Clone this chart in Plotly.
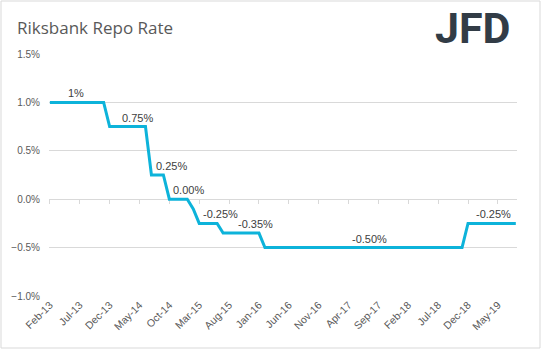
import plotly.graph_objects as go

months = ["Feb-13","Mar-13","Apr-13","May-13","Jun-13","Jul-13","Aug-13","Sep-13","Oct-13","Nov-13",
          "Dec-13","Jan-14","Feb-14","Mar-14","Apr-14","May-14","Jun-14","Jul-14","Aug-14","Sep-14",
          "Oct-14","Nov-14","Dec-14","Jan-15","Feb-15","Mar-15","Apr-15","May-15","Jun-15","Jul-15",
          "Aug-15","Sep-15","Oct-15","Nov-15","Dec-15","Jan-16","Feb-16","Mar-16","Apr-16","May-16",
          "Jun-16","Jul-16","Aug-16","Sep-16","Oct-16","Nov-16","Dec-16","Jan-17","Feb-17","Mar-17",
          "Apr-17","May-17","Jun-17","Jul-17","Aug-17","Sep-17","Oct-17","Nov-17","Dec-17","Jan-18",
          "Feb-18","Mar-18","Apr-18","May-18","Jun-18","Jul-18","Aug-18","Sep-18","Oct-18","Nov-18",
          "Dec-18","Jan-19","Feb-19","Mar-19","Apr-19","May-19","Jun-19","Jul-19","Aug-19"]

rates = [1.00, 1.00, 1.00, 1.00, 1.00, 1.00, 1.00, 1.00, 1.00, 1.00,
         0.75, 0.75, 0.75, 0.75, 0.75, 0.75, 0.75, 0.25, 0.25, 0.25,
         0.00, 0.00, 0.00, 0.00, -0.10, -0.25, -0.25, -0.25, -0.25, -0.35,
         -0.35, -0.35, -0.35, -0.35, -0.35, -0.35, -0.50, -0.50, -0.50, -0.50,
         -0.50, -0.50, -0.50, -0.50, -0.50, -0.50, -0.50, -0.50, -0.50, -0.50,
         -0.50, -0.50, -0.50, -0.50, -0.50, -0.50, -0.50, -0.50, -0.50, -0.50,
         -0.50, -0.50, -0.50, -0.50, -0.50, -0.50, -0.50, -0.50, -0.50, -0.50,
         -0.25, -0.25, -0.25, -0.25, -0.25, -0.25, -0.25, -0.25, -0.25]

tick_labels = months[::5]

label_texts = ["1%", "0.75%", "0.25%", "0.00%", "-0.25%", "-0.35%", "-0.50%", "-0.25%"]
label_x = [4.4, 14.6, 20.4, 23.2, 28.5, 34.5, 53.5, 74.3]
label_y = [1.00, 0.75, 0.25, 0.00, -0.25, -0.35, -0.50, -0.25]

W, H = 543, 351
L, R, T, B = 49, 26, 54, 55
pw, ph = W - L - R, H - T - B

def px(x):
    return (x - L) / pw

def py(y):
    return (H - B - y) / ph

grey = "#595959"
fig = go.Figure()
fig.add_trace(go.Scatter(x=list(range(len(months))), y=rates, mode="lines",
                         line=dict(color="#0DB3DA", width=3), hoverinfo="skip",
                         showlegend=False))
fig.add_trace(go.Scatter(x=list(range(len(months))), y=[None] * len(months), xaxis="x2",
                         mode="lines", showlegend=False, hoverinfo="skip"))

for t, x, y in zip(label_texts, label_x, label_y):
    fig.add_annotation(x=x, y=y, text=t, showarrow=False, yshift=9,
                       font=dict(family="Liberation Sans", size=11, color="#404040"))

fig.add_annotation(xref="paper", yref="paper", x=px(15), y=py(27), xanchor="left",
                   yanchor="middle", text="Riksbank Repo Rate", showarrow=False,
                   font=dict(family="Open Sans", size=17, color=grey))
fig.add_annotation(xref="paper", yref="paper", x=px(473), y=py(28), xanchor="center",
                   yanchor="middle", text="<b>JFD</b>", showarrow=False,
                   font=dict(family="Roboto", size=43, color="#323C46"))

fig.add_shape(type="rect", xref="paper", yref="paper", x0=px(1), x1=px(540),
              y0=py(348), y1=py(1), line=dict(color="#D9D9D9", width=1))

tickvals = list(range(0, len(months), 5))
fig.update_layout(
    width=W, height=H, margin=dict(l=L, r=R, t=T, b=B),
    plot_bgcolor="white", paper_bgcolor="white",
    xaxis=dict(range=[-0.15, len(months) - 0.8], anchor="free", position=0.4,
               showline=True, linecolor="#D9D9D9", linewidth=1, layer="below traces",
               ticks="outside", ticklen=4, tickcolor="#D9D9D9",
               tickvals=tickvals, showticklabels=False, showgrid=False, zeroline=False),
    xaxis2=dict(overlaying="x", matches="x", anchor="y", side="bottom",
                tickvals=tickvals, ticktext=tick_labels, tickangle=-45,
                showline=False, ticks="", showgrid=False, zeroline=False,
                tickfont=dict(family="Liberation Sans", size=10.5, color=grey)),
    yaxis=dict(range=[-1.0, 1.5], dtick=0.5, tickformat=".1f", ticksuffix="%",
               showgrid=True, gridcolor="#D9D9D9", gridwidth=1, zeroline=False,
               showline=False, ticks="", ticklabelstandoff=8, layer="below traces",
               tickfont=dict(family="Liberation Sans", size=10, color=grey)),
)

fig.write_html("out.html")
